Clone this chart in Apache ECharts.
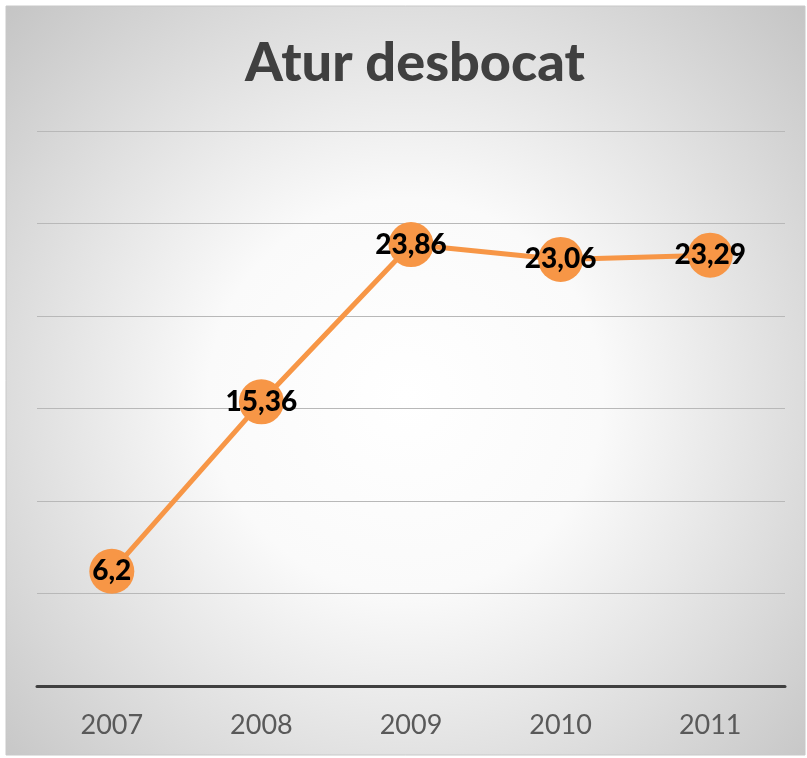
<!DOCTYPE html>
<html lang="ca" style="height: 100%">
<head>
  <meta charset="utf-8">
</head>
<body style="height: 100%; margin: 0; background: #fff">
  <div id="container" style="width: 807px; height: 758px"></div>

  <script type="text/javascript" src="https://cdn.jsdelivr.net/npm/echarts@6/dist/echarts.min.js"></script>

  <script type="text/javascript">
    var years = ['2007', '2008', '2009', '2010', '2011'];
    var atur = [6.2, 15.36, 23.86, 23.06, 23.29];

    var myChart = echarts.init(document.getElementById('container'), null, { renderer: 'canvas' });

    var option = {
      animation: false,
      graphic: [{
        type: 'rect',
        z: -10,
        shape: { x: 6, y: 6, width: 799, height: 749 },
        style: {
          fill: new echarts.graphic.RadialGradient(0.5, 0.52, 0.75, [
            { offset: 0, color: '#ffffff' },
            { offset: 0.35, color: '#fafafa' },
            { offset: 1, color: '#c4c4c4' }
          ]),
          stroke: '#c8c8c8',
          lineWidth: 1
        }
      }],
      title: {
        text: 'Atur desbocat',
        left: 240,
        top: 32,
        textStyle: { fontFamily: 'Lato', fontWeight: 900, fontSize: 54, color: '#404040' }
      },
      grid: { left: 37, right: 22, top: 131, bottom: 72 },
      xAxis: {
        type: 'category',
        data: years,
        axisLine: { lineStyle: { color: '#404040', width: 3 } },
        axisTick: { show: false },
        axisLabel: { fontFamily: 'Lato', fontSize: 27, color: '#595959', margin: 26 }
      },
      yAxis: {
        type: 'value',
        min: 0,
        max: 30,
        interval: 5,
        axisLabel: { show: false },
        splitLine: { lineStyle: { color: '#b8b8b8', width: 1 } }
      },
      series: [{
        type: 'line',
        data: atur,
        symbol: 'circle',
        symbolSize: 45,
        itemStyle: { color: '#F79646' },
        lineStyle: { color: '#F79646', width: 5 },
        label: {
          show: true,
          position: 'inside',
          formatter: function (p) { return String(p.value).replace('.', ','); },
          fontFamily: 'Lato',
          fontWeight: 900,
          fontSize: 28,
          color: '#000'
        }
      }]
    };

    myChart.setOption(option);
    window.addEventListener('resize', myChart.resize);
  </script>
</body>
</html>
